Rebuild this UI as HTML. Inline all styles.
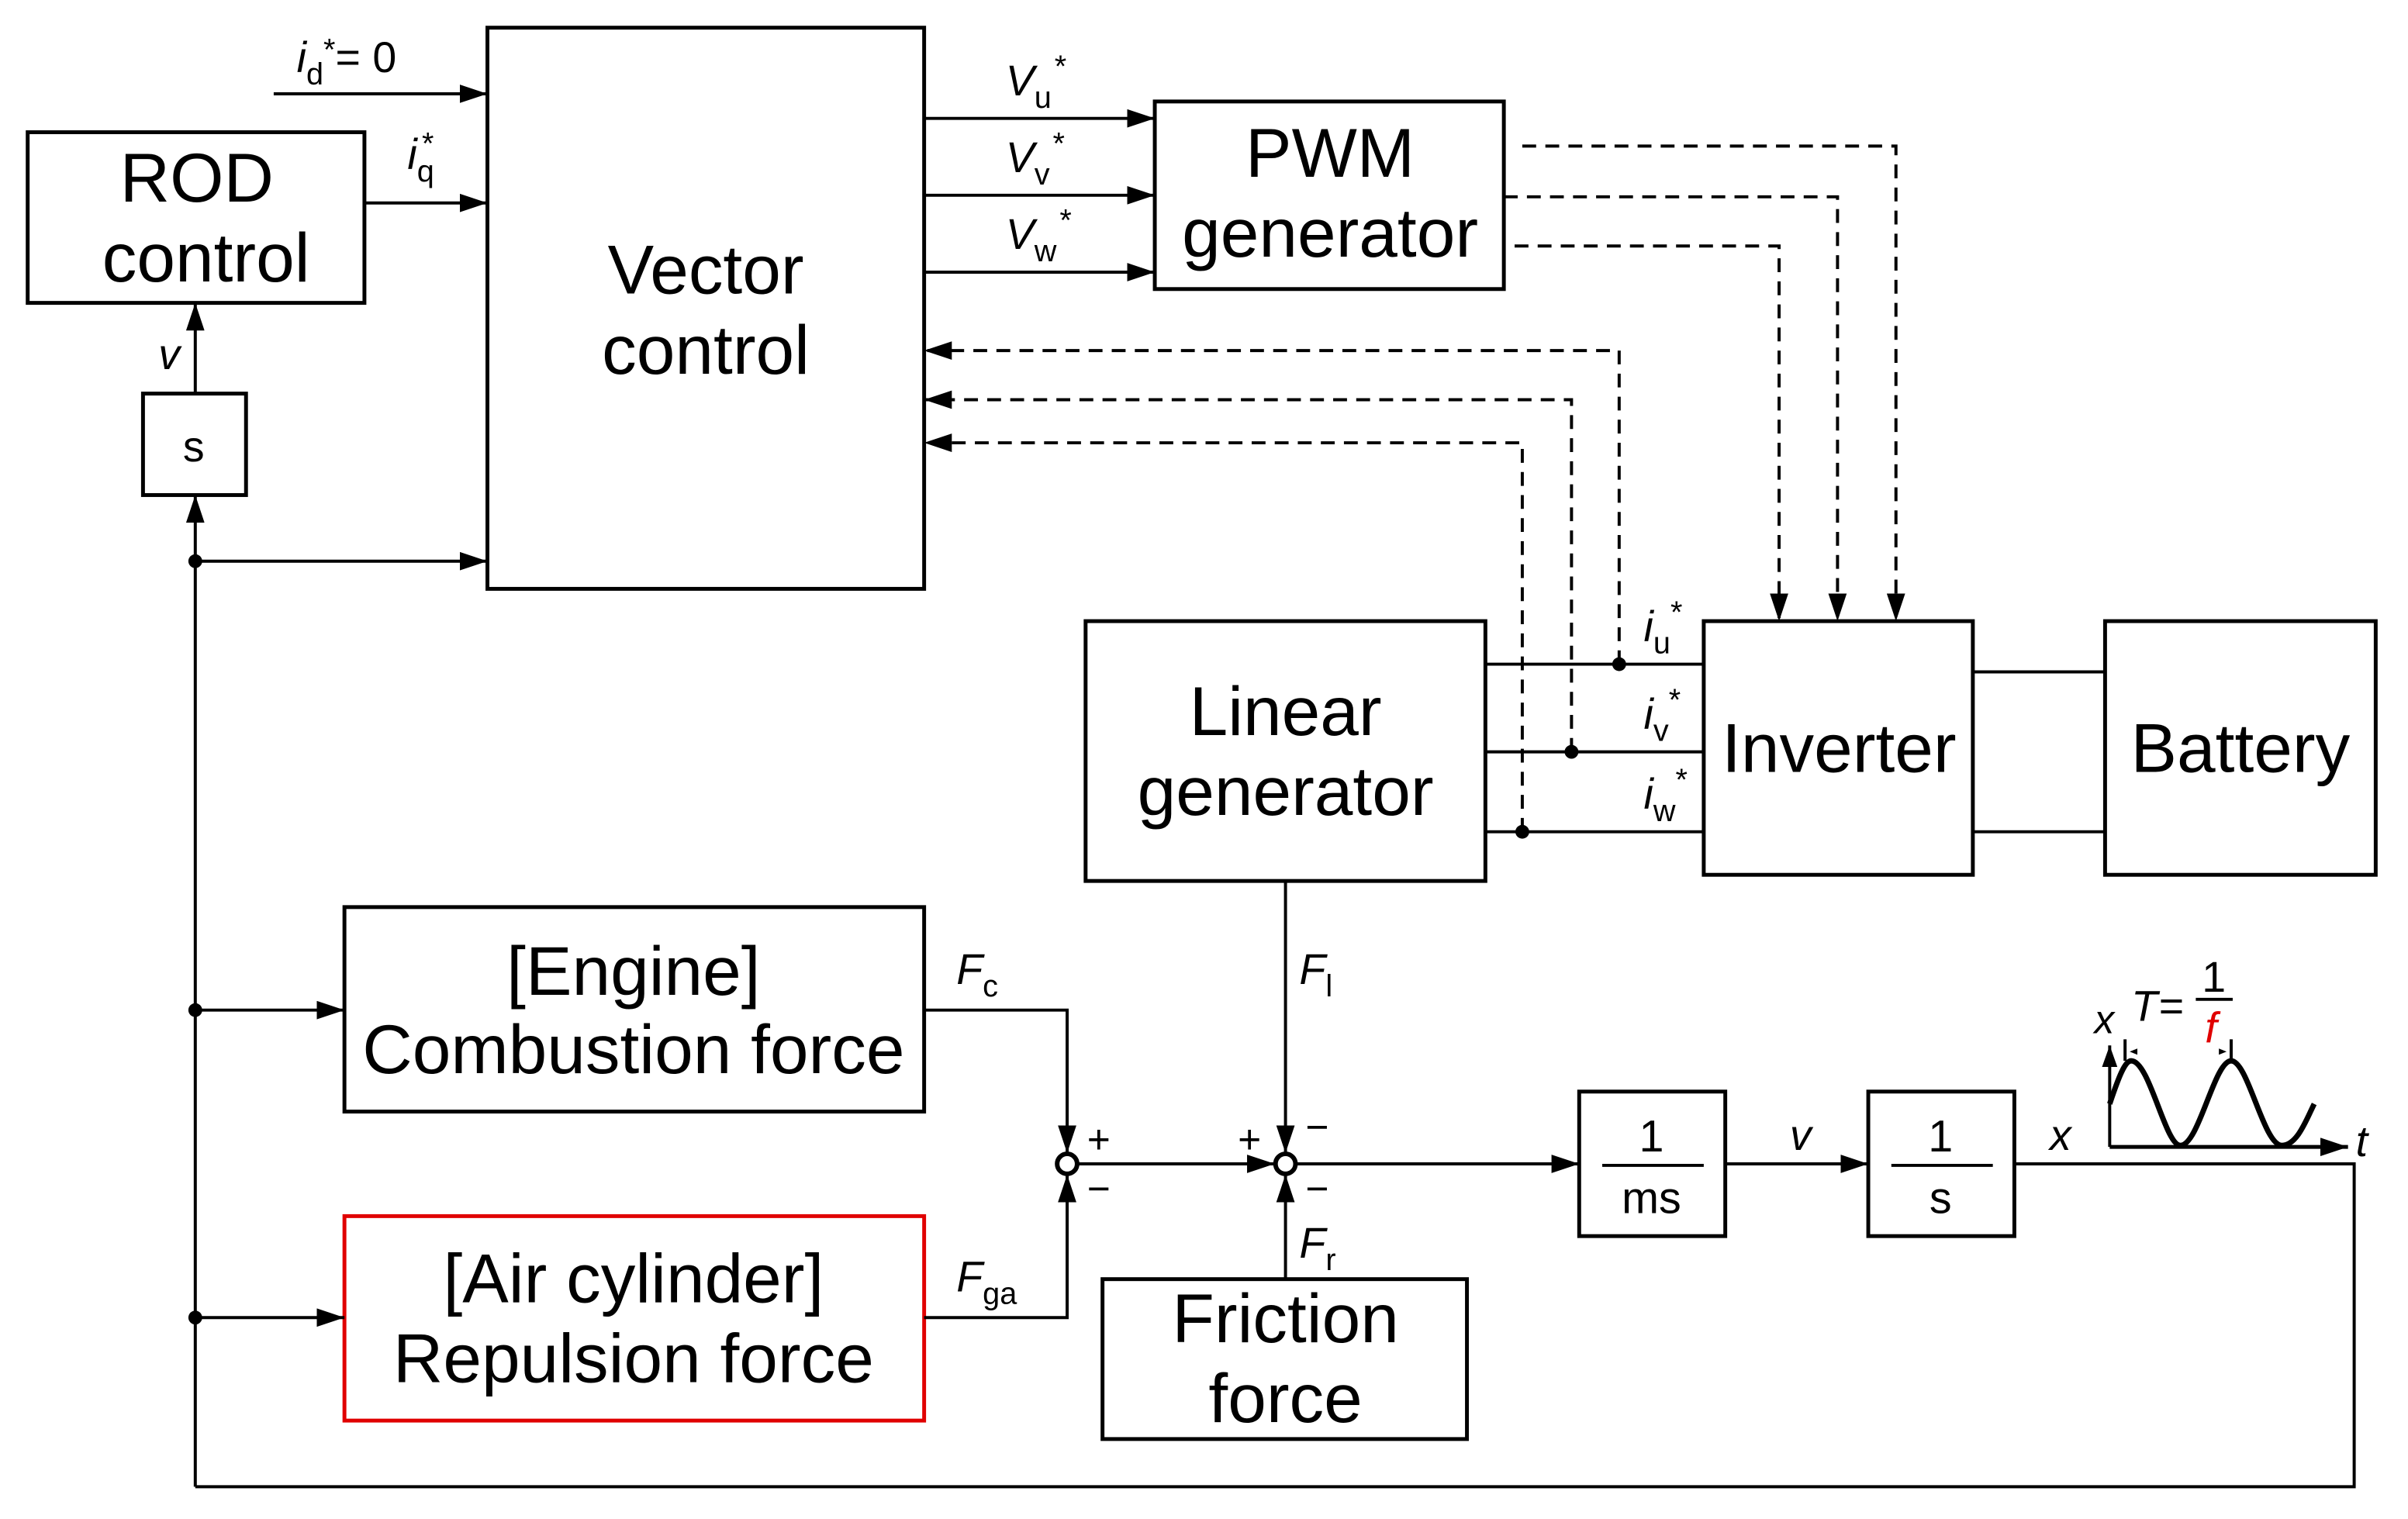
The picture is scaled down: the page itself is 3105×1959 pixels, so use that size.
<!DOCTYPE html>
<html><head><meta charset="utf-8"><style>
html,body{margin:0;padding:0;background:#fff}
svg{display:block}
text{font-family:"Liberation Sans",Arial,sans-serif;fill:#000}
.b{font-size:45px;text-anchor:middle}
.l{font-size:28px;font-style:italic}
.sub{font-size:20px;font-style:normal}
</style></head><body>
<svg width="3105" height="1959" viewBox="0 0 1566 988" xmlns="http://www.w3.org/2000/svg">
<defs>
<marker id="a2" markerWidth="18" markerHeight="12" refX="18" refY="6" orient="auto" markerUnits="userSpaceOnUse" viewBox="0 0 18 12">
<path d="M0,0L18,6L0,12z" fill="#000"/></marker>
<marker id="a3" markerWidth="14" markerHeight="10" refX="14" refY="5" orient="auto" markerUnits="userSpaceOnUse" viewBox="0 0 14 10">
<path d="M0,0L14,5L0,10z" fill="#000"/></marker>
</defs>
<g fill="none" stroke="#000" stroke-width="2.5">
<rect x="18" y="86" width="219" height="111"/>
<rect x="93" y="256" width="67" height="66"/>
<rect x="317" y="18" width="284" height="365"/>
<rect x="751" y="66" width="227" height="122"/>
<rect x="706" y="404" width="260" height="169"/>
<rect x="1108" y="404" width="175" height="165"/>
<rect x="1369" y="404" width="176" height="165"/>
<rect x="224" y="590" width="377" height="133"/>
<rect x="224" y="791" width="377" height="133" stroke="#e00000"/>
<rect x="717" y="832" width="237" height="104"/>
<rect x="1027" y="710" width="95" height="94"/>
<rect x="1215" y="710" width="95" height="94"/>
</g>
<g fill="none" stroke="#000" stroke-width="2">
<line x1="178" y1="61" x2="317" y2="61" marker-end="url(#a2)"/>
<line x1="237" y1="132" x2="317" y2="132" marker-end="url(#a2)"/>
<line x1="601" y1="77" x2="751" y2="77" marker-end="url(#a2)"/>
<line x1="601" y1="127" x2="751" y2="127" marker-end="url(#a2)"/>
<line x1="601" y1="177" x2="751" y2="177" marker-end="url(#a2)"/>
<g stroke-dasharray="9,6">
<polyline points="990,95 1233,95 1233,404" marker-end="url(#a2)"/>
<polyline points="978,128 1195,128 1195,404" marker-end="url(#a2)"/>
<polyline points="985,160 1157,160 1157,404" marker-end="url(#a2)"/>
<polyline points="1053,432 1053,228 601,228" marker-end="url(#a2)"/>
<polyline points="1022,489 1022,260 601,260" marker-end="url(#a2)"/>
<polyline points="990,541 990,288 601,288" marker-end="url(#a2)"/>
</g>
<line x1="966" y1="432" x2="1108" y2="432"/>
<line x1="966" y1="489" x2="1108" y2="489"/>
<line x1="966" y1="541" x2="1108" y2="541"/>
<line x1="1283" y1="437" x2="1369" y2="437"/>
<line x1="1283" y1="541" x2="1369" y2="541"/>
<line x1="127" y1="967" x2="127" y2="322" marker-end="url(#a2)"/>
<line x1="127" y1="256" x2="127" y2="197" marker-end="url(#a2)"/>
<line x1="127" y1="365" x2="317" y2="365" marker-end="url(#a2)"/>
<line x1="127" y1="657" x2="224" y2="657" marker-end="url(#a2)"/>
<line x1="127" y1="857" x2="224" y2="857" marker-end="url(#a2)"/>
<polyline points="127,967 1531,967 1531,757 1310,757"/>
<polyline points="601,657 694,657 694,750" marker-end="url(#a2)"/>
<polyline points="601,857 694,857 694,764" marker-end="url(#a2)"/>
<line x1="701" y1="757" x2="829" y2="757" marker-end="url(#a2)"/>
<line x1="836" y1="573" x2="836" y2="750" marker-end="url(#a2)"/>
<line x1="836" y1="832" x2="836" y2="764" marker-end="url(#a2)"/>
<line x1="843" y1="757" x2="1027" y2="757" marker-end="url(#a2)"/>
<line x1="1122" y1="757" x2="1215" y2="757" marker-end="url(#a2)"/>
<line x1="1042" y1="758" x2="1108" y2="758"/>
<line x1="1230" y1="758" x2="1296" y2="758"/>
<circle cx="694" cy="757" r="6.5" stroke-width="3"/>
<circle cx="836" cy="757" r="6.5" stroke-width="3"/>
<line x1="1372" y1="746" x2="1372" y2="680" marker-end="url(#a3)"/>
<line x1="1372" y1="746" x2="1527" y2="746" marker-end="url(#a2)" stroke-width="2.5"/>
<path d="M1372,718 C1378,700 1382,690 1386,690 C1398,690 1408,745 1418,745 C1430,745 1440,690 1451,690 C1462,690 1472,745 1484,745 C1494,745 1500,728 1505,718" stroke-width="3.5"/>
<line x1="1382" y1="676" x2="1382" y2="690"/>
<line x1="1451" y1="676" x2="1451" y2="690"/>
<line x1="1428" y1="650" x2="1452" y2="650"/>
</g>
<g fill="#000">
<circle cx="1053" cy="432" r="4.5"/><circle cx="1022" cy="489" r="4.5"/><circle cx="990" cy="541" r="4.5"/>
<circle cx="127" cy="365" r="4.5"/><circle cx="127" cy="657" r="4.5"/><circle cx="127" cy="857" r="4.5"/>
<path d="M1385,684l5,-2v4z"/><path d="M1448,684l-5,-2v4z"/>
</g>
<text class="b" x="128" y="131">ROD</text>
<text class="b" x="134" y="183">control</text>
<text class="b" x="126" y="300" style="font-size:28px">s</text>
<text class="b" x="459" y="191">Vector</text>
<text class="b" x="459" y="243">control</text>
<text class="b" x="865" y="115">PWM</text>
<text class="b" x="865" y="167">generator</text>
<text class="b" x="836" y="478">Linear</text>
<text class="b" x="836" y="530">generator</text>
<text class="b" x="1196" y="502">Inverter</text>
<text class="b" x="1457" y="502">Battery</text>
<text class="b" x="412" y="647">[Engine]</text>
<text class="b" x="412" y="698">Combustion force</text>
<text class="b" x="412" y="847">[Air cylinder]</text>
<text class="b" x="412" y="899">Repulsion force</text>
<text class="b" x="836" y="873">Friction</text>
<text class="b" x="836" y="925">force</text>
<text class="b" x="1074" y="749" style="font-size:29px">1</text>
<text class="b" x="1074" y="789" style="font-size:29px">ms</text>
<text class="b" x="1262" y="749" style="font-size:29px">1</text>
<text class="b" x="1262" y="789" style="font-size:29px">s</text>
<text class="l" x="193" y="47">i<tspan class="sub" dy="8">d</tspan><tspan class="sub" dy="-16">*</tspan><tspan dy="8" style="font-style:normal">= 0</tspan></text>
<text class="l" x="265" y="110">i<tspan class="sub" dy="8">q</tspan><tspan class="sub" dy="-18" dx="-8">*</tspan></text>
<text class="l" x="654" y="62">V<tspan class="sub" dy="8">u</tspan><tspan class="sub" dy="-20" dx="2">*</tspan></text>
<text class="l" x="654" y="112">V<tspan class="sub" dy="8">v</tspan><tspan class="sub" dy="-20" dx="2">*</tspan></text>
<text class="l" x="654" y="162">V<tspan class="sub" dy="8">w</tspan><tspan class="sub" dy="-20" dx="2">*</tspan></text>
<text class="l" x="1069" y="417">i<tspan class="sub" dy="8">u</tspan><tspan class="sub" dy="-20">*</tspan></text>
<text class="l" x="1069" y="474">i<tspan class="sub" dy="8">v</tspan><tspan class="sub" dy="-20">*</tspan></text>
<text class="l" x="1069" y="526">i<tspan class="sub" dy="8">w</tspan><tspan class="sub" dy="-20">*</tspan></text>
<text class="l" x="103" y="240">v</text>
<text class="l" x="622" y="640">F<tspan class="sub" dy="8">c</tspan></text>
<text class="l" x="622" y="840">F<tspan class="sub" dy="8">ga</tspan></text>
<text class="l" x="845" y="640">F<tspan class="sub" dy="8">l</tspan></text>
<text class="l" x="845" y="818">F<tspan class="sub" dy="8">r</tspan></text>
<text x="707" y="750" style="font-size:26px">+</text>
<text x="707" y="782" style="font-size:26px">−</text>
<text x="805" y="750" style="font-size:26px">+</text>
<text x="849" y="742" style="font-size:26px">−</text>
<text x="849" y="782" style="font-size:26px">−</text>
<text class="l" x="1164" y="748">v</text>
<text class="l" x="1333" y="748">x</text>
<text class="l" x="1362" y="672" style="font-size:26px">x</text>
<text class="l" x="1532" y="752">t</text>
<text class="l" x="1386" y="664">T</text>
<text x="1404" y="664" style="font-size:28px">=</text>
<text x="1432" y="645" style="font-size:28px">1</text>
<text class="l" x="1434" y="678" style="fill:#e00000">f</text>
</svg>
</body></html>
